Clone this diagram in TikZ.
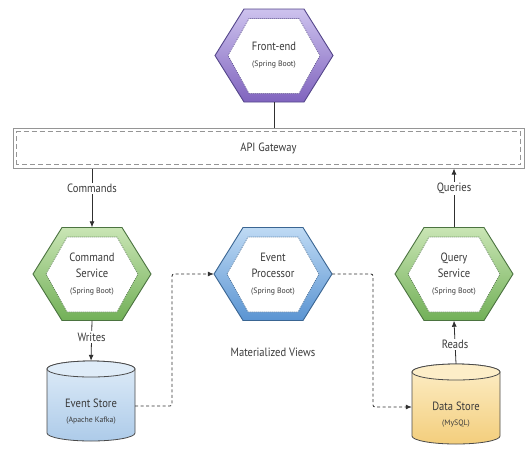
\documentclass[tikz,border=0pt]{standalone}
\usepackage{fontspec}
\setmainfont{PT Sans}[FakeStretch=0.88]
\newfontfamily\smallfam{PT Sans}
\usetikzlibrary{arrows.meta,calc}
\definecolor{txt}{HTML}{3A3A3A}
\definecolor{lnc}{HTML}{303030}
\definecolor{purT}{HTML}{CDC2EE}
\definecolor{purB}{HTML}{8064BE}
\definecolor{purD}{HTML}{54468A}
\definecolor{grnT}{HTML}{C9E5B4}
\definecolor{grnB}{HTML}{72B058}
\definecolor{grnD}{HTML}{4B7340}
\definecolor{bluT}{HTML}{BFDAF4}
\definecolor{bluB}{HTML}{5A94D2}
\definecolor{bluD}{HTML}{3A6592}
\definecolor{esT}{HTML}{DFECF8}
\definecolor{esB}{HTML}{ADCBE9}
\definecolor{dsT}{HTML}{FDEEC8}
\definecolor{dsB}{HTML}{F3CE7C}
\definecolor{cylD}{HTML}{4A4A4A}
\definecolor{gwD}{HTML}{959595}
\tikzset{
  hexlabel/.style={minimum width=118pt,minimum height=93pt,inner sep=0pt,align=center,text=txt,
    font=\fontsize{12}{16}\selectfont},
  cylanchor/.style={minimum width=88pt,minimum height=80pt,inner sep=0pt},
  cyltext/.style={align=center,text=txt,font=\fontsize{12}{15}\selectfont},
  conn/.style={draw=lnc,line width=0.8pt},
  arr/.style={conn,-{Latex[length=6pt,width=5pt]}},
  dconn/.style={arr,dash pattern=on 3pt off 2.5pt,rounded corners=2pt},
  lbl/.style={fill=white,inner sep=1.5pt,text=txt,font=\fontsize{12}{13}\selectfont},
}
\newcommand\smalltxt[1]{{\smallfam\fontsize{7.8}{9}\selectfont #1}}
\newcommand\hexnode[7]{%
  \begin{scope}[shift={(#2,#3)}]
    \draw[top color=#4,bottom color=#5,draw=#6,line width=0.9pt]
      (-59,0)--(-30,-46.5)--(30,-46.5)--(59,0)--(30,46.5)--(-30,46.5)--cycle;
    \draw[fill=white,draw=#6,dash pattern=on 1pt off 1pt,line width=0.6pt]
      (-46,0)--(-25,-37)--(25,-37)--(46,0)--(25,38)--(-25,38)--cycle;
  \end{scope}
  \node[hexlabel] (#1) at (#2,#3) {#7};
}
\newcommand\cylnode[6]{%
  \begin{scope}[shift={(#2,#3)}]
    \draw[top color=#4,bottom color=#5,draw=cylD,line width=0.8pt]
      (-44,-32) -- (-44,32) arc[start angle=180,end angle=0,x radius=44,y radius=8]
      -- (44,-32) arc[start angle=0,end angle=-180,x radius=44,y radius=8] -- cycle;
    \draw[fill=#4,draw=cylD,line width=0.8pt] (0,-32) ellipse[x radius=44,y radius=8];
  \end{scope}
  \node[cylanchor] (#1) at (#2,#3) {};
  \node[cyltext] (#1txt) at (#2,#3+11) {#6};
}
\begin{document}
\begin{tikzpicture}[x=1pt,y=-1pt]
\useasboundingbox (0,0) rectangle (529,448);
% API gateway
\node[draw=gwD,line width=1pt,minimum width=511pt,minimum height=40pt,inner sep=0pt,
  text=txt,font=\fontsize{12}{13}\selectfont] (gw) at (268.5,148) {API Gateway};
\draw[draw=gwD,line width=0.7pt,dash pattern=on 5pt off 3pt]
  ($(gw.south west)+(4,-4)$) rectangle ($(gw.north east)+(-4,4)$);
% hexagons
\hexnode{fe}{274}{55.5}{purT}{purB}{purD}{Front-end\\\smalltxt{(Spring Boot)}}
\hexnode{cs}{92}{274}{grnT}{grnB}{grnD}{Command\\Service\\\smalltxt{(Spring Boot)}}
\hexnode{ep}{273}{274}{bluT}{bluB}{bluD}{Event\\Processor\\\smalltxt{(Spring Boot)}}
\hexnode{qs}{454}{274}{grnT}{grnB}{grnD}{Query\\Service\\\smalltxt{(Spring Boot)}}
% cylinders
\cylnode{es}{91}{401}{esT}{esB}{Event Store\\\smalltxt{(Apache Kafka)}}
\cylnode{ds}{456}{404}{dsT}{dsB}{Data Store\\\smalltxt{(MySQL)}}
% text
\node[text=txt,font=\fontsize{12}{13}\selectfont] (mv) at (273,352) {Materialized Views};
% connectors
\draw[conn] (fe.south) -- (fe.south |- gw.north);
\draw[arr] (cs.north |- gw.south) -- node[lbl,pos=0.34] (cmdl) {Commands} (cs.north);
\draw[arr] (qs.north) -- node[lbl,pos=0.66] (qryl) {Queries} (qs.north |- gw.south);
\draw[arr] (cs.south) -- node[lbl,pos=0.41] (wrl) {Writes} (es.north);
\draw[arr] (ds.north) -- node[lbl,pos=0.45] (rdl) {Reads} (qs.south);
\coordinate (d1) at (172,274);
\coordinate (d2) at (373,407);
\draw[dconn] ($(es.east)+(0,5)$) -| (d1) -- (ep.west);
\draw[dconn] (ep.east) -| (d2) -- (d2 -| ds.west);
\end{tikzpicture}
\end{document}
